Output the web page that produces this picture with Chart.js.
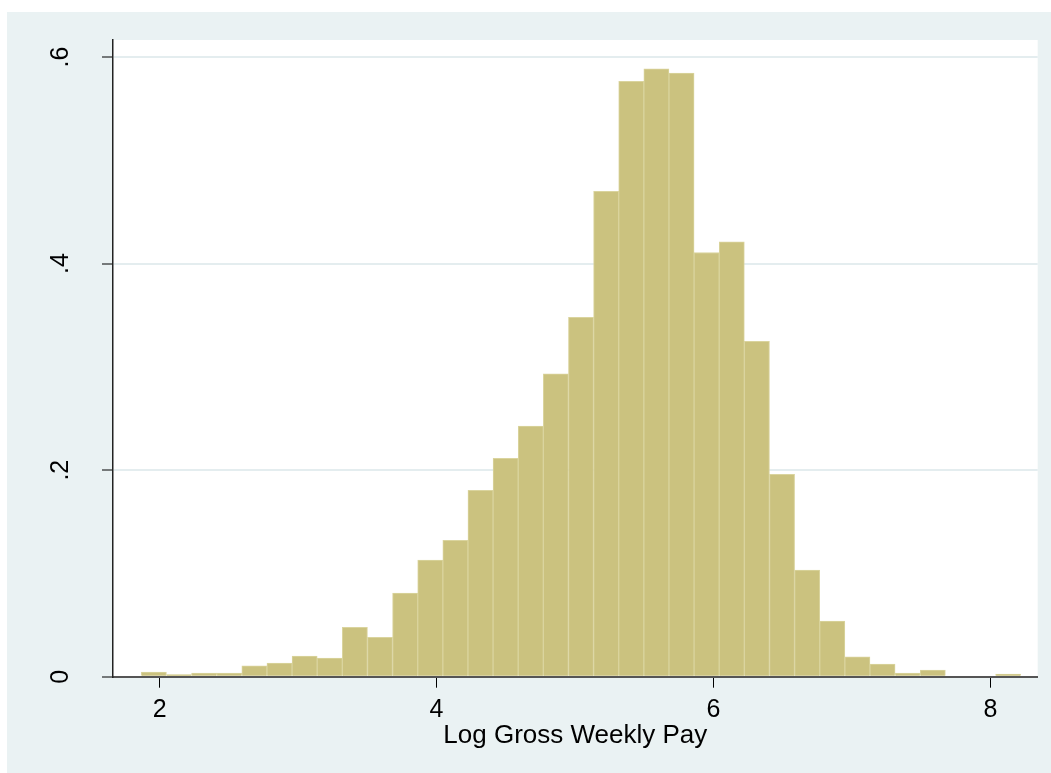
<!DOCTYPE html>
<html>
<head>
<meta charset="utf-8">
<script src="https://cdn.jsdelivr.net/npm/chart.js@4/dist/chart.umd.min.js"></script>
<style>
    body { margin: 0; background: #ffffff; overflow: hidden; }
    #hist { position: absolute; left: 7px; top: 12px; background: #EAF2F3; }
</style>
</head>
<body>
<canvas id="hist" width="1044" height="761"></canvas>
<script>
// bin centres (log weekly pay) and density heights
const binCenters = [1.9587, 2.1402, 2.3216, 2.5031, 2.6846, 2.8661, 3.0475, 3.2290, 3.4105, 3.5919,
                    3.7734, 3.9549, 4.1363, 4.3178, 4.4993, 4.6808, 4.8622, 5.0437, 5.2252, 5.4066,
                    5.5881, 5.7696, 5.9510, 6.1325, 6.3140, 6.4955, 6.6769, 6.8584, 7.0399, 7.2213,
                    7.4028, 7.5843, 7.7657, 7.9472, 8.1287];
const density = [0.0045, 0.0020, 0.0035, 0.0035, 0.0106, 0.0132, 0.0200, 0.0180, 0.0477, 0.0380,
                 0.0810, 0.1130, 0.1320, 0.1805, 0.2115, 0.2427, 0.2933, 0.3480, 0.4700, 0.5764,
                 0.5887, 0.5845, 0.4107, 0.4210, 0.3247, 0.1960, 0.1032, 0.0538, 0.0193, 0.0123,
                 0.0036, 0.0065, 0, 0, 0.0026];
const xTicks = [2, 4, 6, 8];
const yTicks = [0, 0.2, 0.4, 0.6];
const yTickLabels = ['0', '.2', '.4', '.6'];
const xTitle = 'Log Gross Weekly Pay';

const FONT = '"Liberation Sans", Arial, sans-serif';

// white plot region
const plotBg = {
    id: 'plotBg',
    beforeDraw(chart) {
        const a = chart.chartArea;
        const ctx = chart.ctx;
        ctx.save();
        ctx.fillStyle = '#ffffff';
        ctx.fillRect(a.left, a.top, a.right - a.left, a.bottom - a.top);
        ctx.restore();
    }
};

// y labels turned 90 degrees like Stata does
const yLabels = {
    id: 'yLabels',
    afterDraw(chart) {
        const s = chart.scales.y;
        const ctx = chart.ctx;
        ctx.save();
        ctx.font = '25px ' + FONT;
        ctx.fillStyle = '#000000';
        ctx.textAlign = 'center';
        ctx.textBaseline = 'alphabetic';
        s.ticks.forEach(t => {
            const y = s.getPixelForValue(t.value);
            ctx.save();
            ctx.translate(61.3, y);
            ctx.rotate(-Math.PI / 2);
            ctx.fillText(t.label, 0, 0);
            ctx.restore();
        });
        ctx.restore();
    }
};

const ctx = document.getElementById('hist').getContext('2d');
new Chart(ctx, {
    type: 'bar',
    data: {
        datasets: [{
            data: binCenters.map((x, i) => ({ x: x, y: density[i] })),
            backgroundColor: '#CBC27F',
            borderColor: '#DAD49E',
            borderWidth: 1,
            barPercentage: 1,
            categoryPercentage: 1
        }]
    },
    options: {
        responsive: false,
        animation: false,
        devicePixelRatio: 1,
        layout: { padding: { top: 28, right: 13.3, left: 0, bottom: 0 } },
        plugins: {
            legend: { display: false },
            tooltip: { enabled: false }
        },
        scales: {
            x: {
                type: 'linear',
                min: 1.6635,
                max: 8.342,
                offset: false,
                z: 1,
                afterBuildTicks: s => { s.ticks = xTicks.map(v => ({ value: v })); },
                afterFit: s => { s.height = 96.3; },
                ticks: {
                    color: '#000000',
                    font: { family: FONT, size: 25 },
                    padding: 7,
                    maxRotation: 0,
                    callback: v => String(v)
                },
                grid: {
                    display: true,
                    offset: false,
                    drawOnChartArea: false,
                    drawTicks: true,
                    tickLength: 11,
                    tickColor: '#000000',
                    tickWidth: 1
                },
                border: { color: '#555555', width: 2 },
                title: {
                    display: true,
                    text: xTitle,
                    color: '#000000',
                    font: { family: FONT, size: 26 },
                    padding: { top: 0, bottom: 22 }
                }
            },
            y: {
                min: 0,
                max: 0.6165,
                afterBuildTicks: s => { s.ticks = yTicks.map(v => ({ value: v })); },
                afterFit: s => { s.width = 106; },
                ticks: {
                    display: false,
                    callback: (v, i) => yTickLabels[i]
                },
                grid: {
                    color: c => (c.tick && c.tick.value === 0) ? 'rgba(0,0,0,0)' : '#E4EDEF',
                    lineWidth: 2,
                    drawTicks: true,
                    tickLength: 11,
                    tickColor: '#000000',
                    tickWidth: 1
                },
                border: { color: '#222222', width: 1.5 }
            }
        }
    },
    plugins: [plotBg, yLabels]
});
</script>
</body>
</html>
